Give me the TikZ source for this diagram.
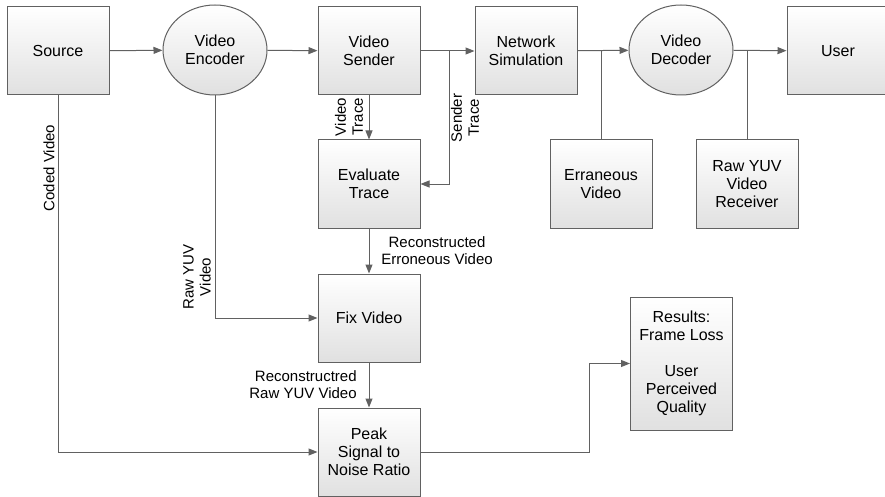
\documentclass[tikz,border=0pt]{standalone}
\usepackage{fontspec}
\setmainfont{Liberation Sans}
\usepackage{tikz}
\usetikzlibrary{arrows.meta,positioning,calc,shapes.geometric}
\tikzstyle{inblock}=[draw=black!62,line width=1pt,top color=white,bottom color=black!12,minimum width=102pt,minimum height=88pt,inner sep=0pt,align=center,font=\fontsize{16}{18}\selectfont]
\tikzstyle{inproc}=[inblock,ellipse,minimum width=104pt,minimum height=90pt]
\tikzstyle{flow}=[draw=black!62,line width=1pt,-{Triangle[length=9pt,width=7pt]}]
\tikzstyle{wire}=[draw=black!62,line width=1pt]
\tikzstyle{tag}=[font=\fontsize{15}{17}\selectfont,align=center,inner sep=0pt]

\begin{document}
\begin{tikzpicture}[x=1pt,y=-1pt]
    \useasboundingbox (0,0) rectangle (885,497);
    \node [inblock] (source) at (58,51) {Source};
    \node [inproc] (enc) at (215,50) {Video\\Encoder};
    \node [inblock] (sender) at (369,51) {Video\\Sender};
    \node [inblock] (net) at (526,51) {Network\\Simulation};
    \node [inproc] (dec) at (681,50) {Video\\Decoder};
    \node [inblock] (user) at (838,51) {User};
    \node [inblock] (eval) at (369,184) {Evaluate\\Trace};
    \node [inblock] (err) at (601,184) {Erraneous\\Video};
    \node [inblock] (recv) at (747,184) {Raw YUV\\Video\\Receiver};
    \node [inblock] (fix) at (369,318) {Fix Video};
    \node [inblock] (psnr) at (369,452) {Peak\\Signal to\\Noise Ratio};
    \node [inblock,minimum height=133pt] (res) at (681.5,363.5)
      {Results:\\Frame Loss\\ \\User\\Perceived\\Quality};

    \draw [flow] (source) -- (enc);
    \draw [flow] (enc) -- (sender);
    \draw [flow] (sender) -- (net);
    \draw [flow] (net) -- (dec);
    \draw [flow] (dec) -- (user);

    \coordinate (tap) at (449,51);
    \draw [flow] (tap) |- (eval.east);
    \node [tag,rotate=90] (strace) at (465,118) {Sender\\Trace};

    \draw [flow] (sender) -- (eval);
    \node [tag,rotate=90] (vtrace) at (349,117) {Video\\Trace};

    \draw [flow] (eval) -- (fix);
    \node [tag] (rerr) at (437,251) {Reconstructed\\Erroneous Video};

    \draw [flow] (enc.south) |- (fix.west);
    \node [tag,rotate=90] (rawyuv) at (197,277) {Raw YUV\\Video};

    \draw [flow] (source.south) |- (psnr.west);
    \node [tag,rotate=90] (coded) at (49,168) {Coded Video};

    \draw [flow] (fix) -- (psnr);
    \node [tag,align=right] (rraw) at (303,385) {Reconstructred\\Raw YUV Video};

    \draw [flow] (psnr.east) -| ($(res.west)+(-41,0)$) -- (res.west);

    \draw [wire] (err.north) -- (err.north |- net.east);
    \draw [wire] (recv.north) -- (recv.north |- dec.east);
\end{tikzpicture}
\end{document}
